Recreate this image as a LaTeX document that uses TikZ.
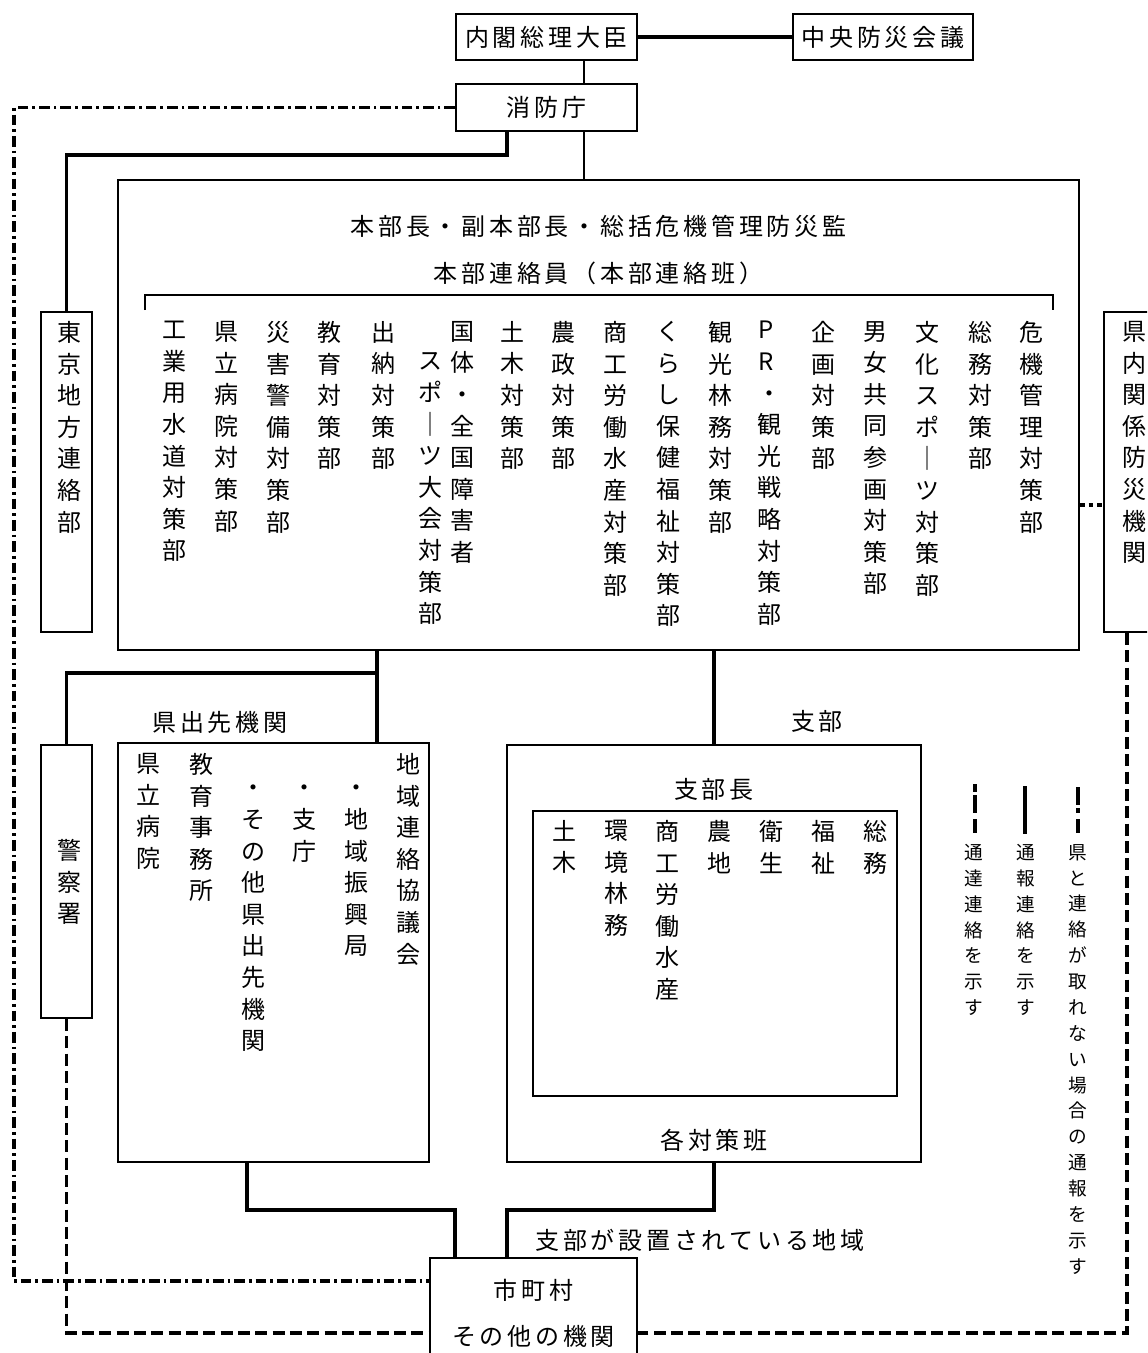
\documentclass[tikz,border=0pt]{standalone}
\usepackage{fontspec}
\newfontfamily\jp{Noto Sans CJK JP}
\newcommand\tate[1]{\tateloop#1\relax}
\def\tateloop#1{\ifx#1\relax\else#1\par\expandafter\tateloop\fi}
\newcommand\yoko[1]{\yokoloop#1\relax}
\def\yokoloop#1{\ifx#1\relax\else\kern1.4pt#1\kern1.4pt\expandafter\yokoloop\fi}
\tikzset{
  box/.style={draw, line width=1.5pt, inner sep=0pt},
  link/.style={line width=2.6pt},
  thinlink/.style={line width=2pt},
  tsutatsu/.style={line width=2.4pt, dash pattern=on 8pt off 3pt on 2pt off 3pt},
  fuhou/.style={line width=2.6pt, dash pattern=on 9pt off 4pt},
  kenlink/.style={line width=2.6pt, dash pattern=on 3.5pt off 3pt},
  tatecol/.style={text width=1.3em, align=center, inner sep=0pt, anchor=north},
  legendcol/.style={tatecol, font=\jp\fontsize{14}{19.4}\selectfont}
}
\begin{document}
\begin{tikzpicture}[x=0.75pt, y=-0.75pt, font=\jp\fontsize{18}{23.7}\selectfont]
\useasboundingbox (0,0) rectangle (1147,1353);
\clip (0,0) rectangle (1147,1353);

\node[box, minimum width=135.75pt, minimum height=34.5pt] (pm) at (546.5,37) {\yoko{内閣総理大臣}};
\node[box, minimum width=135pt, minimum height=34.5pt] (chuo) at (883,37) {\yoko{中央防災会議}};
\node[box, minimum width=135.75pt, minimum height=35.25pt] (fdma) at (546.5,107.5) {\yoko{消防庁}};
\node[box, minimum width=720.75pt, minimum height=352.5pt] (hq) at (598.5,415) {};
\node[box, minimum width=38.25pt, minimum height=240pt] (tokyo) at (66.5,472) {};
\node[box, minimum width=40.5pt, minimum height=240pt] (kennai) at (1131,472) {};
\node[box, minimum width=233.25pt, minimum height=314.25pt] (kensaki) at (273.5,952.5) {};
\node[box, minimum width=38.25pt, minimum height=204.75pt] (police) at (66.5,881.5) {};
\node[box, minimum width=310.5pt, minimum height=312.75pt] (shibu) at (714,953.5) {};
\node[box, minimum width=273pt, minimum height=213.75pt] (han) at (715,953.5) {};
\node[box, minimum width=155.25pt, minimum height=80.25pt] (city) at (533.5,1311.5) {};

\node (hqtitle) at (598.5,226) {\yoko{本部長・副本部長・総括危機管理防災監}};
\node (liaison) at (598.5,273) {\yoko{本部連絡員（本部連絡班）}};
\draw[line width=1.2pt] (145,310) -- (145,295) -- (1053,295) -- (1053,310);

\node[tatecol] (c1) at (171,321) {\tate{工業用水道対策部}};
\node[tatecol] (c2) at (223,321) {\tate{県立病院対策部}};
\node[tatecol] (c3) at (275,321) {\tate{災害警備対策部}};
\node[tatecol] (c4) at (326,321) {\tate{教育対策部}};
\node[tatecol] (c5) at (380,321) {\tate{出納対策部}};
\node[tatecol] (c6a) at (427,352.6) {\tate{スポ｜ツ大会対策部}};
\node[tatecol] (c6b) at (459,321) {\tate{国体・全国障害者}};
\node[tatecol] (c7) at (509,321) {\tate{土木対策部}};
\node[tatecol] (c8) at (560,321) {\tate{農政対策部}};
\node[tatecol] (c9) at (612,321) {\tate{商工労働水産対策部}};
\node[tatecol] (c10) at (665,321) {\tate{くらし保健福祉対策部}};
\node[tatecol] (c11) at (717,321) {\tate{観光林務対策部}};
\node[tatecol] (c12) at (766,321) {\tate{PR・観光戦略対策部}};
\node[tatecol] (c13) at (820,321) {\tate{企画対策部}};
\node[tatecol] (c14) at (872,321) {\tate{男女共同参画対策部}};
\node[tatecol] (c15) at (924,321) {\tate{文化スポ｜ツ対策部}};
\node[tatecol] (c16) at (977,321) {\tate{総務対策部}};
\node[tatecol] (c17) at (1028,321) {\tate{危機管理対策部}};

\node[tatecol] (tokyotxt) at (66.5,321) {\tate{東京地方連絡部}};
\node[tatecol] (kennaitxt) at (1131.5,321) {\tate{県内関係防災機関}};
\node[tatecol] (policetxt) at (66.5,839) {\tate{警察署}};

\node (kensakilbl) at (220,722) {\yoko{県出先機関}};
\node[tatecol] (k1) at (145,753) {\tate{県立病院}};
\node[tatecol] (k2) at (198,753) {\tate{教育事務所}};
\node[tatecol] (k3) at (250,785) {\tate{・その他県出先機関}};
\node[tatecol] (k4) at (301,785) {\tate{・支庁}};
\node[tatecol] (k5) at (353,785) {\tate{・地域振興局}};
\node[tatecol] (k6) at (405,753) {\tate{地域連絡協議会}};

\node (shibulbl) at (817,721) {\yoko{支部}};
\node (shibucho) at (714,789) {\yoko{支部長}};
\node[tatecol] (s1) at (561,820) {\tate{土木}};
\node[tatecol] (s2) at (613,820) {\tate{環境林務}};
\node[tatecol] (s3) at (664,820) {\tate{商工労働水産}};
\node[tatecol] (s4) at (716,820) {\tate{農地}};
\node[tatecol] (s5) at (768,820) {\tate{衛生}};
\node[tatecol] (s6) at (820,820) {\tate{福祉}};
\node[tatecol] (s7) at (872,820) {\tate{総務}};
\node (kakuhan) at (714,1140) {\yoko{各対策班}};

\node (area) at (700,1240) {\yoko{支部が設置されている地域}};
\node (citytxt) at (533.5,1290) {\yoko{市町村}};
\node (othertxt) at (533.5,1336) {\yoko{その他の機関}};

\coordinate (spine) at (584,0);
\coordinate (tk) at (507,155);
\coordinate (leftrail) at (14,1281);
\coordinate (br) at (377,673);
\coordinate (sb) at (714,0);
\coordinate (ka) at (247,1210);
\coordinate (kb) at (455,0);
\coordinate (sa) at (714,1210);
\coordinate (sc) at (507,0);
\coordinate (kn) at (0,505);
\coordinate (botrail) at (1127,1333);
\coordinate (polrail) at (66.5,1333);

\draw[link] (pm) -- (chuo);
\draw[thinlink] (spine |- pm.south) -- (spine |- fdma.north);
\draw[thinlink] (spine |- fdma.south) -- (spine |- hq.north);
\draw[link] (tk |- fdma.south) -- (tk) -| (tokyo.north);
\draw[tsutatsu] (fdma.west) -| (leftrail) -- (leftrail -| city.west);
\draw[link] (br |- hq.south) -- (br) -| (police.north);
\draw[link] (br) -- (br |- kensaki.north);
\draw[link] (sb |- hq.south) -- (sb |- shibu.north);
\draw[link] (ka |- kensaki.south) -- (ka) -| (kb |- city.north);
\draw[link] (sa |- shibu.south) -- (sa) -| (sc |- city.north);
\draw[kenlink] (hq.east |- kn) -- (kennai.west |- kn);
\draw[fuhou] (kennai.south -| botrail) -- (botrail) -- (botrail -| city.east);
\draw[fuhou] (police.south) -- (polrail) -- (polrail -| city.west);

\draw[line width=2.4pt, dash pattern=on 6pt off 2.25pt on 13.5pt off 4.5pt on 10.5pt off 20pt] (975,784) -- (975,833);
\draw[line width=2.4pt] (1025,786) -- (1025,834);
\draw[line width=2.4pt, dash pattern=on 13.5pt off 2.25pt on 3.75pt off 4.5pt on 10.5pt off 20pt] (1078,787) -- (1078,833);
\node[legendcol] (leg1) at (973,844) {\tate{通達連絡を示す}};
\node[legendcol] (leg2) at (1025,844) {\tate{通報連絡を示す}};
\node[legendcol] (leg3) at (1077,844) {\tate{県と連絡が取れない場合の通報を示す}};
\end{tikzpicture}
\end{document}
